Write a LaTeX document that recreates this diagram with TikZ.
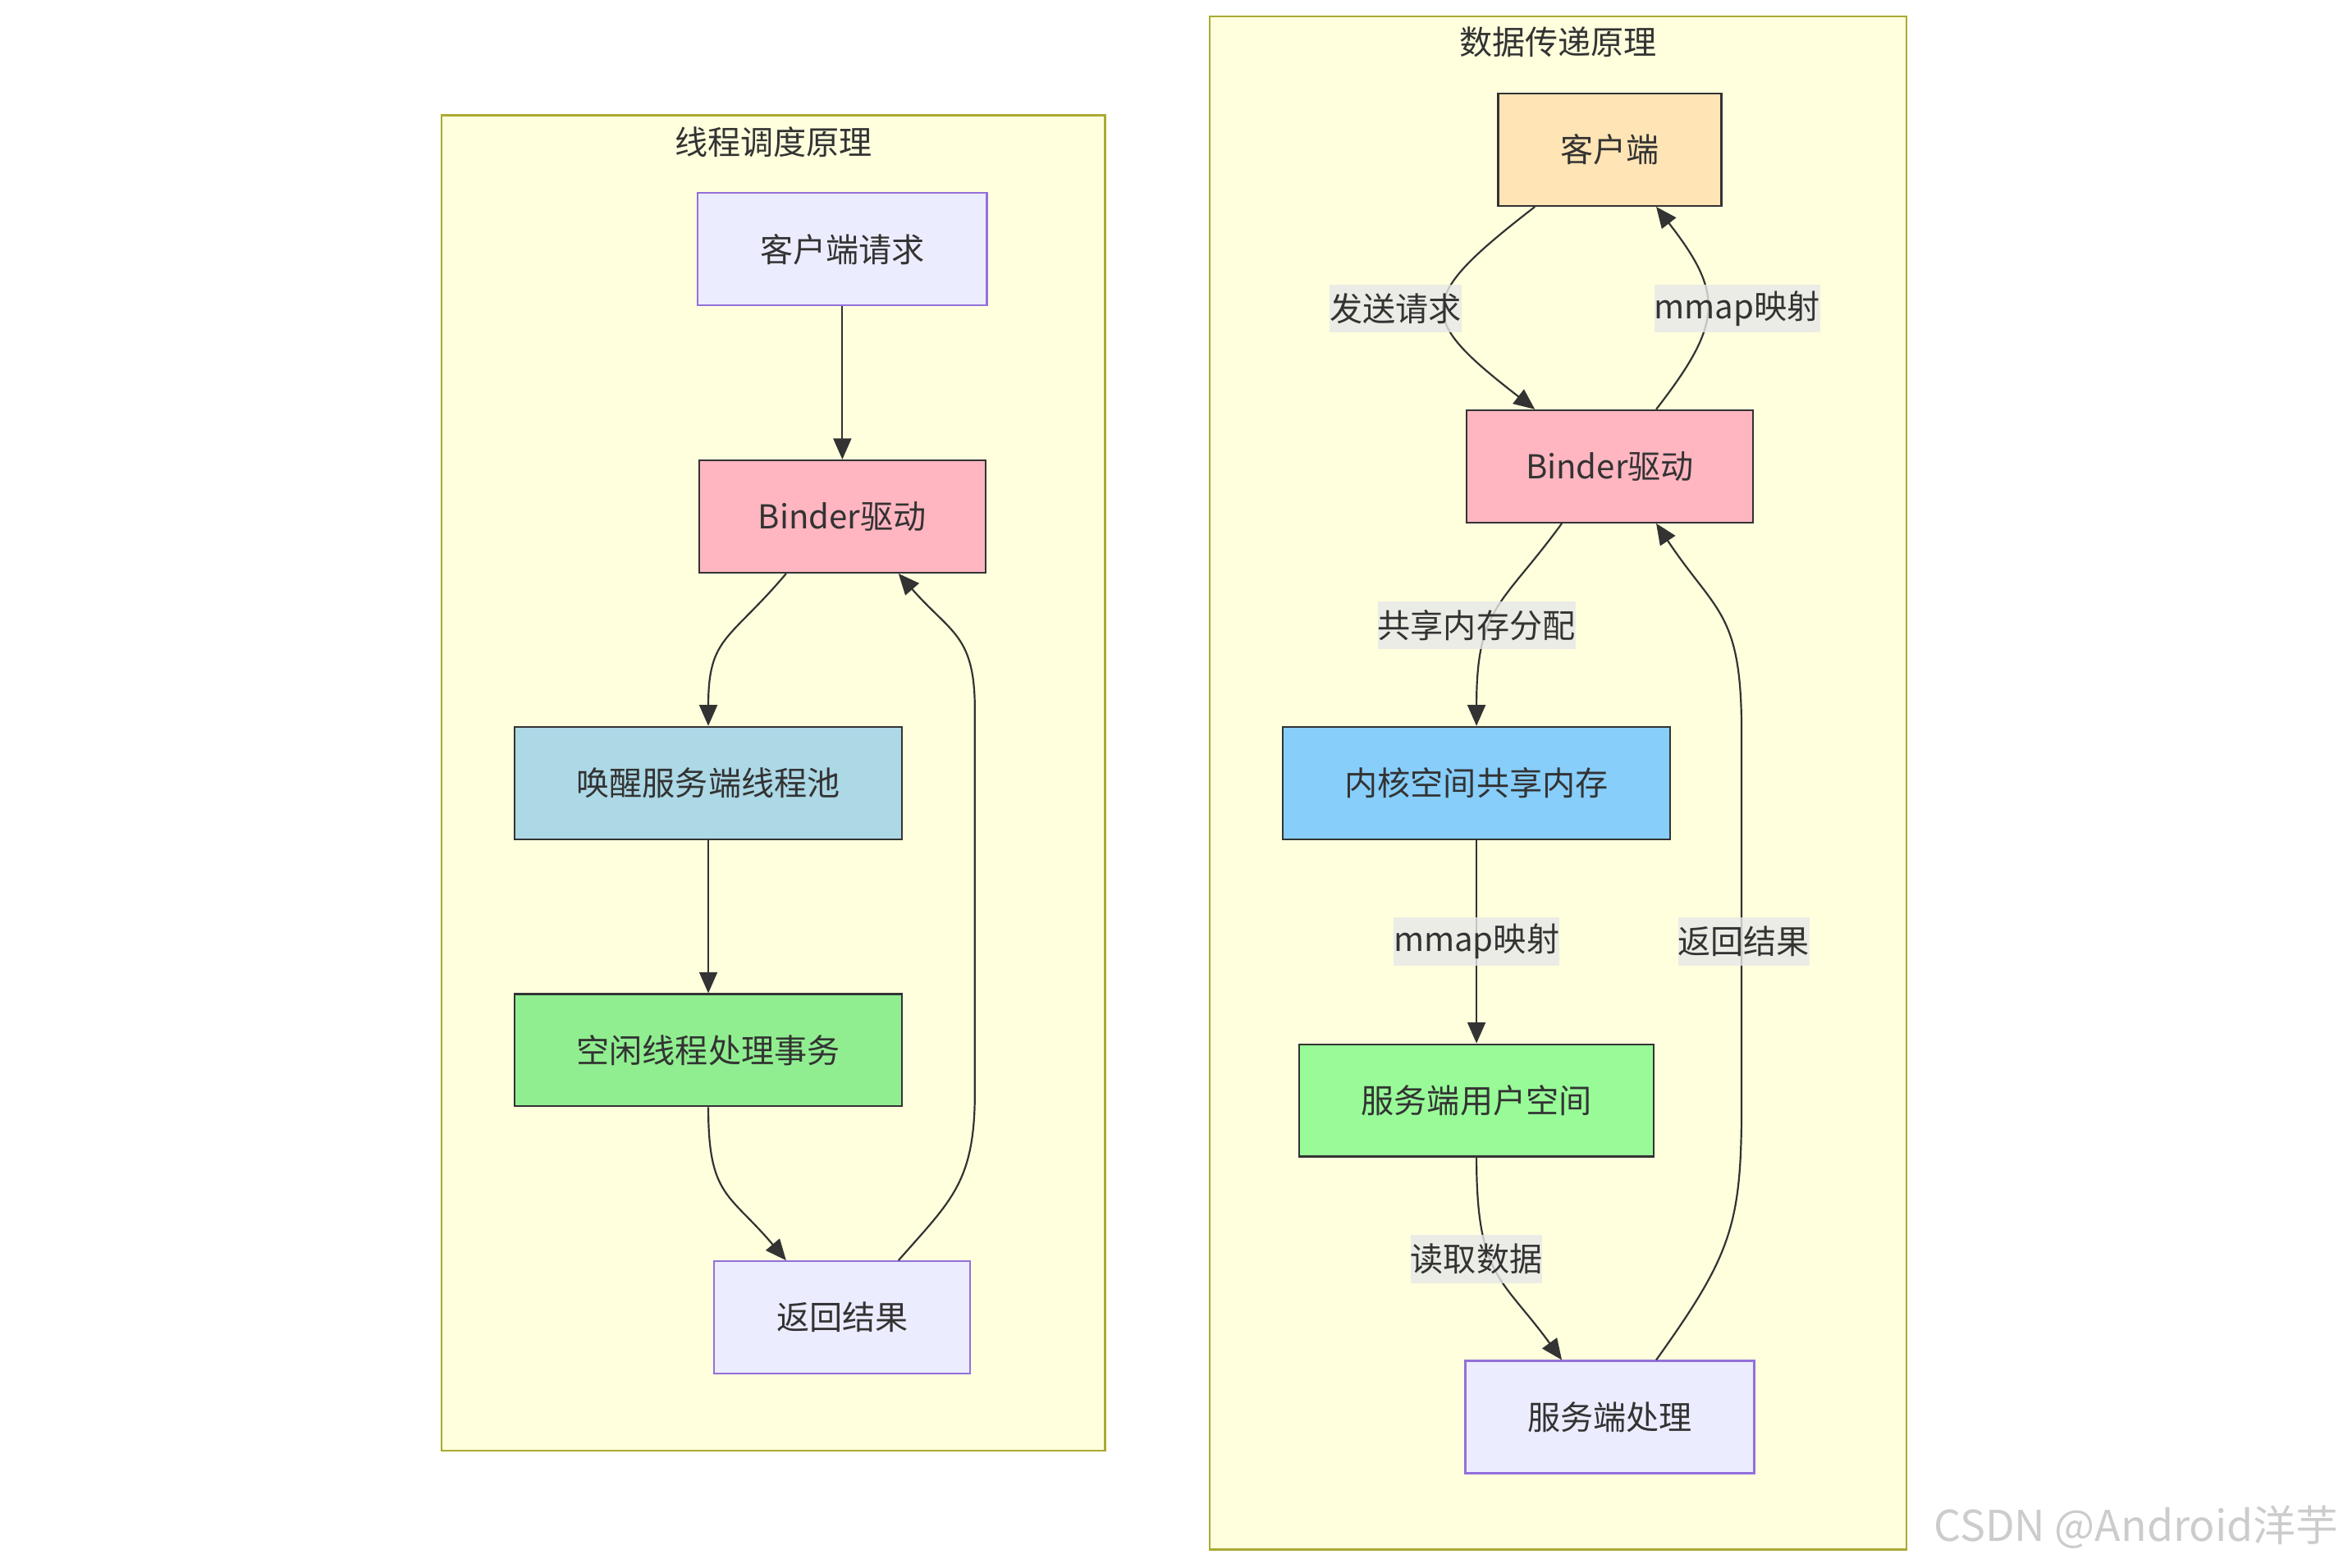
\documentclass[tikz,border=0pt]{standalone}
\usepackage{fontspec}
\setmainfont{Noto Sans CJK SC}
\usetikzlibrary{arrows.meta}
\definecolor{clusterbg}{HTML}{FFFFDE}
\definecolor{clusterline}{HTML}{AAAA33}
\definecolor{defaultbg}{HTML}{ECECFF}
\definecolor{defaultline}{HTML}{9370DB}
\definecolor{darkline}{HTML}{333333}
\definecolor{darktext}{HTML}{333333}
\definecolor{labelbg}{HTML}{E8E8E8}
\definecolor{pinkbg}{HTML}{FFB6C1}
\definecolor{bluebg}{HTML}{ADD8E6}
\definecolor{greenbg}{HTML}{90EE90}
\definecolor{orangebg}{HTML}{FFE4B5}
\definecolor{skybg}{HTML}{87CEFA}
\definecolor{palegreenbg}{HTML}{98FB98}
\definecolor{markgray}{HTML}{CCCCCC}
\tikzset{
	box/.style={draw=darkline, line width=0.6pt, inner xsep=20.75pt, inner ysep=0pt, minimum height=37.5pt},
	plainbox/.style={box, draw=defaultline, fill=defaultbg},
	lbl/.style={fill=labelbg, fill opacity=0.8, text opacity=1, inner sep=0pt, minimum height=16pt},
	flow/.style={draw=darkline, line width=0.6pt, -{Triangle[length=7pt,width=6pt]}},
	cluster/.style={draw=clusterline, fill=clusterbg, line width=0.6pt}
}

\begin{document}
\begin{tikzpicture}[x=0.5pt,y=-0.5pt,every node/.style={font=\fontsize{11}{13}\selectfont, text=darktext}]
	\useasboundingbox (0,0) rectangle (1568,1047);
	\draw[cluster] (295,77) rectangle (738,969);
	\draw[cluster] (808,11) rectangle (1273,1035);
	\node (titleL) at (516.5,95) {线程调度原理};
	\node (titleR) at (1040.5,28) {数据传递原理};

	% thread scheduling
	\node[plainbox] (req) at (562.5,166.5) {客户端请求};
	\node[box, fill=pinkbg, inner xsep=19.75pt] (bind) at (562.5,345) {Binder驱动};
	\node[box, fill=bluebg] (wake) at (473,523) {唤醒服务端线程池};
	\node[box, fill=greenbg] (idle) at (473,701.5) {空闲线程处理事务};
	\node[plainbox] (ret) at (562.5,880) {返回结果};
	\draw[flow] (req) -- (bind);
	\draw[flow] (wake) -- (idle);
	\draw[flow] ([xshift=-18.75pt]bind.south) .. controls +(-38,45) and +(0,-60) .. (wake.north);
	\draw[flow] (idle.south) .. controls +(0,60) and +(-38,-45) .. ([xshift=-18.75pt]ret.north);
	\draw[flow] ([xshift=18.75pt]ret.north) .. controls +(35,-40) and +(0,60) .. ++(51,-112)
		-- ++(0,-256) .. controls +(0,-50) and +(35,40) .. ([xshift=18.75pt]bind.south);

	% data transfer
	\node[box, fill=orangebg] (cli) at (1075,100) {客户端};
	\node[box, fill=pinkbg, inner xsep=19.75pt] (bindR) at (1075,311.5) {Binder驱动};
	\node[box, fill=skybg] (kern) at (986,523) {内核空间共享内存};
	\node[box, fill=palegreenbg] (servU) at (986,735) {服务端用户空间};
	\node[plainbox] (servP) at (1075,946.5) {服务端处理};
	\draw[flow] ([xshift=-25pt]cli.south) .. controls +(-80,62) and +(-80,-62) .. ([xshift=-25pt]bindR.north);
	\draw[flow] ([xshift=15.5pt]bindR.north) .. controls +(45,-58) and +(45,58) .. ([xshift=15.5pt]cli.south);
	\draw[flow] ([xshift=-16pt]bindR.south) .. controls +(-40,55) and +(0,-80) .. (kern.north);
	\draw[flow] (kern) -- (servU);
	\draw[flow] (servU.south) .. controls +(0,80) and +(-40,-55) .. ([xshift=-16pt]servP.north);
	\draw[flow] ([xshift=15.5pt]servP.north) .. controls +(50,-70) and +(0,80) .. ++(57,-170)
		-- ++(0,-250) .. controls +(0,-80) and +(40,60) .. ([xshift=15.5pt]bindR.south);
	\node[lbl] (sendL) at (932,206) {发送请求};
	\node[lbl] (mapL) at (1160,206) {mmap映射};
	\node[lbl] (allocL) at (986,417.5) {共享内存分配};
	\node[lbl] (mapM) at (986,629) {mmap映射};
	\node[lbl] (backL) at (1164.5,629) {返回结果};
	\node[lbl] (readL) at (986,841) {读取数据};

	\node[text=markgray, font=\fontsize{14.2}{17}\selectfont] (mark) at (1426.5,1020) {CSDN @Android洋芋};
\end{tikzpicture}
\end{document}
